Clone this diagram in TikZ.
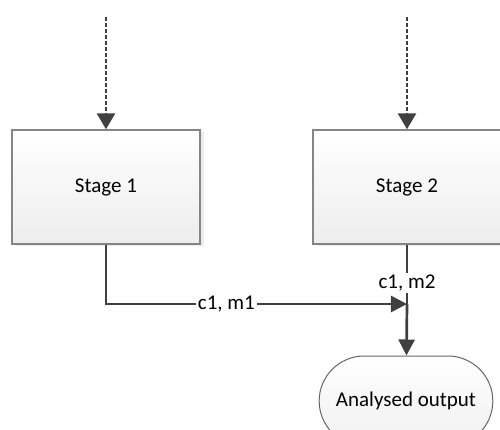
\documentclass[tikz,border=0pt]{standalone}
\usepackage{fontspec}
\setmainfont{Carlito}
\usetikzlibrary{arrows.meta,shadows,shapes.misc}

\definecolor{linegray}{HTML}{404040}
\definecolor{boxgray}{HTML}{858585}

\begin{document}
\begin{tikzpicture}[x=0.5pt,y=-0.5pt,font=\fontsize{10.5pt}{12pt}\selectfont,
    >={Triangle[length=8pt,width=8pt]}]
    \tikzstyle{stage}=[rectangle,draw=boxgray,line width=0.7pt,minimum width=94pt,minimum height=57pt,
        top color=white,bottom color=black!7,
        drop shadow={shadow xshift=1.8pt,shadow yshift=-1.2pt,opacity=0.08,fill=black}]
    \tikzstyle{terminal}=[rounded rectangle,draw=black!60,line width=0.5pt,minimum width=93.5pt,minimum height=45pt,
        top color=white,bottom color=black!6]
    \tikzstyle{flow}=[draw=linegray,line width=1.35pt]
    \tikzstyle{feed}=[flow,line width=1.3pt,dash pattern=on 2pt off 1pt]
    \tikzstyle{tag}=[fill=white,inner sep=1pt]

    \useasboundingbox (0,0) rectangle (500,430);

    % Stages
    \node[stage] (S-1) at (106,187) {Stage 1};
    \node[stage] (S-2) at (407,187) {Stage 2};

    % Output
    \node[terminal] (out) at (406,401) {Analysed output};

    % Free ends and join point
    \coordinate (in-1) at (106,17);
    \coordinate (in-2) at (407,17);
    \coordinate (join) at (407,304);

    % Incoming feeds
    \foreach \s in {1,2}
        \draw[feed,-{Triangle[length=8pt,width=9pt]}] (in-\s) -- (S-\s);

    % Stage 1 to join
    \draw[flow,->] (S-1) |- node[tag,pos=0.7] {c1, m1} (join);

    % Stage 2 to join, then to output
    \draw[flow] (S-2) -- node[tag,pos=0.65] {c1, m2} (join);
    \draw[flow,->] (join) -- (out);

\end{tikzpicture}
\end{document}
